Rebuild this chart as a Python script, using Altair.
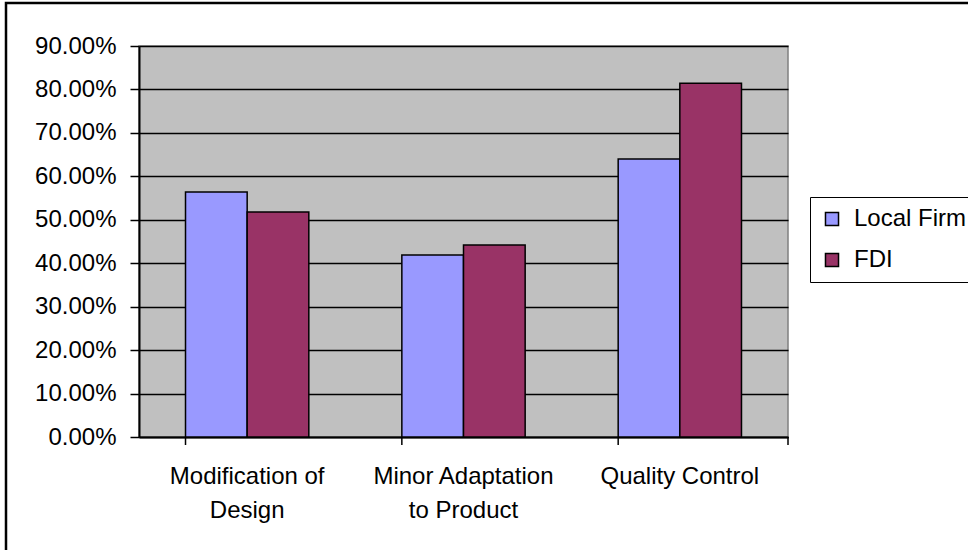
import altair as alt
import pandas as pd

# Share of firms by activity type
categories = ["Modification of Design", "Minor Adaptation to Product", "Quality Control"]
label_lines = [["Modification of", "Design"], ["Minor Adaptation", "to Product"], ["Quality Control"]]
series = ["Local Firm", "FDI"]
local_firm = [0.564, 0.419, 0.640]
fdi = [0.518, 0.442, 0.814]
colors = ["#9999FF", "#993366"]

rows = []
for cat, lf, fd in zip(categories, local_firm, fdi):
    rows.append({"activity": cat, "firm": "Local Firm", "share": lf})
    rows.append({"activity": cat, "firm": "FDI", "share": fd})
df = pd.DataFrame(rows)

W, H = 649, 391
FONT = "Liberation Sans"
FS = 24

# two-line category labels
label_expr = " : ".join(
    f"datum.value == '{c}' ? {lines!r}" for c, lines in zip(categories, label_lines)
) + " : datum.label"

x_scale = alt.Scale(domain=categories, paddingInner=0.43, paddingOuter=0.215)

bars = alt.Chart(df).mark_bar(stroke="black", strokeWidth=1.5).encode(
    x=alt.X(
        "activity:N",
        scale=x_scale,
        sort=categories,
        axis=alt.Axis(
            title=None,
            labelAngle=0,
            ticks=False,
            labelExpr=label_expr,
            labelFontSize=FS,
            labelLineHeight=34,
            labelPadding=27,
            labelLimit=400,
            labelColor="black",
            labelFont=FONT,
            domainColor="black",
            domainWidth=2,
            labelBaseline="top",
        ),
    ),
    xOffset=alt.XOffset("firm:N", sort=series, scale=alt.Scale(domain=series)),
    y=alt.Y(
        "share:Q",
        scale=alt.Scale(domain=[0, 0.9], nice=False),
        axis=alt.Axis(
            title=None,
            format=".2%",
            values=[i / 10 for i in range(10)],
            tickSize=9,
            tickColor="black",
            tickWidth=1.5,
            labelFontSize=FS,
            labelFont=FONT,
            labelColor="black",
            labelPadding=14,
            domainColor="black",
            domainWidth=2,
            grid=True,
            gridColor="black",
            gridWidth=1.5,
        ),
    ),
    color=alt.Color(
        "firm:N",
        sort=series,
        scale=alt.Scale(domain=series, range=colors),
        legend=alt.Legend(
            title=None,
            orient="none",
            legendX=671,
            legendY=151,
            symbolType="square",
            symbolSize=170,
            symbolStrokeColor="black",
            symbolStrokeWidth=1.5,
            labelFontSize=FS,
            labelFont=FONT,
            labelColor="black",
            labelOffset=10,
            labelLimit=400,
            rowPadding=17,
            padding=10,
            strokeColor="black",
        ),
    ),
)

# category boundary ticks below the x axis
cat_ticks = alt.Chart(pd.DataFrame({"activity": categories})).mark_rule(
    color="black", strokeWidth=1.5
).encode(
    x=alt.X("activity:N", bandPosition=0, sort=categories, scale=x_scale),
    y=alt.value(H),
    y2=alt.value(H + 8),
)
end_tick = alt.Chart(pd.DataFrame({"activity": categories[:1]})).mark_rule(
    color="black", strokeWidth=1.5
).encode(x=alt.value(W), y=alt.value(H), y2=alt.value(H + 8))

# outer chart frame
frame = alt.Chart(pd.DataFrame({"activity": categories[:1]})).mark_rect(
    filled=False, stroke="black", strokeWidth=2.5
).encode(
    x=alt.value(-133), x2=alt.value(900), y=alt.value(-43), y2=alt.value(640)
)

chart = alt.layer(bars, cat_ticks, end_tick, frame).properties(
    width=W,
    height=H,
    padding={"left": 139, "top": 46, "right": 180, "bottom": 113},
    autosize=alt.AutoSizeParams(type="none"),
    background="white",
).configure_view(
    fill="#C0C0C0", stroke="#808080", strokeWidth=1.5
)

chart.save("out.html", embed_options={"renderer": "svg", "actions": False})
